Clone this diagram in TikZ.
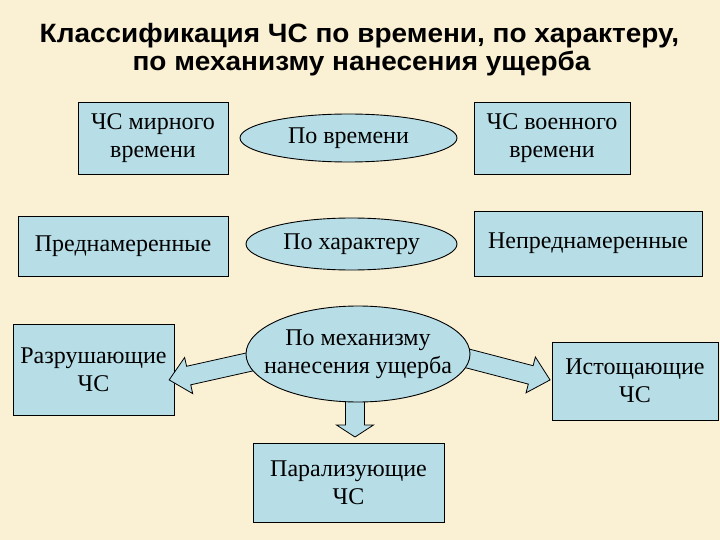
\documentclass[tikz,border=0pt]{standalone}
\usepackage{fontspec}
\setmainfont{Liberation Serif}
\newfontfamily\titlefont{Liberation Sans}[FakeStretch=1.055]
\usetikzlibrary{shapes.geometric}
\definecolor{bgcol}{RGB}{250,240,212}
\definecolor{boxblue}{RGB}{183,221,230}
\tikzset{
  box/.style={draw=black, line width=0.9pt, fill=boxblue, align=center, inner sep=0pt,
    font=\fontsize{24}{28}\selectfont},
  ell/.style={draw=black, line width=0.9pt, fill=boxblue, ellipse, inner sep=0pt},
  elltext/.style={align=center, inner sep=0pt, font=\fontsize{24}{28}\selectfont},
  ttl/.style={anchor=base, inner sep=0pt, font=\titlefont\bfseries\fontsize{26.5}{30}\selectfont},
  barrow/.style={draw=black, line width=0.8pt, fill=boxblue, line join=miter}
}
\newcommand\blockarrow[4]{%
  \begin{scope}[shift={#1}, rotate=#2, x=1pt, y=1pt]
    \draw[barrow] (0,-9.5) -- ({#3-#4},-9.5) -- ({#3-#4},-18.5) -- (#3,0)
      -- ({#3-#4},18.5) -- ({#3-#4},9.5) -- (0,9.5) -- cycle;
  \end{scope}}
\begin{document}
\begin{tikzpicture}[x=1pt, y=-1pt]
\useasboundingbox (0,0) rectangle (720,540);
\fill[bgcol] (0,0) rectangle (720,540);
% title
\node[ttl] (t1) at (359.5,43) {Классификация ЧС по времени, по характеру,};
\node[ttl] (t2) at (361.5,71) {по механизму нанесения ущерба};
% row 1
\node[box, minimum width=150, minimum height=72] (b1) at (153,138) {ЧС мирного\\времени};
\node[ell, minimum width=217, minimum height=48] (e1) at (348.5,138) {};
\node[elltext] (e1t) at (e1.center) {По времени};
\node[box, minimum width=156, minimum height=72] (b2) at (552,138) {ЧС военного\\времени};
% row 2
\node[box, minimum width=210, minimum height=60] (b3) at (123,246) {Преднамеренные};
\node[ell, minimum width=211, minimum height=52] (e2) at (351.5,244) {};
\node[elltext] (e2t) at (e2.center) {По характеру};
\node[box, minimum width=228, minimum height=65] (b4) at (588,243.5) {Непреднамеренные};
% row 3
\node[box, minimum width=161, minimum height=91] (b5) at (93.5,369.5) {Разрушающие\\ЧС};
\node[box, minimum width=166, minimum height=78] (b6) at (635,381) {Истощающие\\ЧС};
\node[box, minimum width=191, minimum height=79] (b7) at (348.5,482.5) {Парализующие\\ЧС};
% block arrows
\blockarrow{(256,360.5)}{192.6}{89}{20}
\blockarrow{(462,357)}{-14.6}{91}{20}
\blockarrow{(355,390)}{-90}{47}{12}
% central ellipse
\node[ell, minimum width=224, minimum height=96] (e3) at (358,354) {};
\node[elltext] (e3t) at (e3.center) {По механизму\\нанесения ущерба};
\end{tikzpicture}
\end{document}
